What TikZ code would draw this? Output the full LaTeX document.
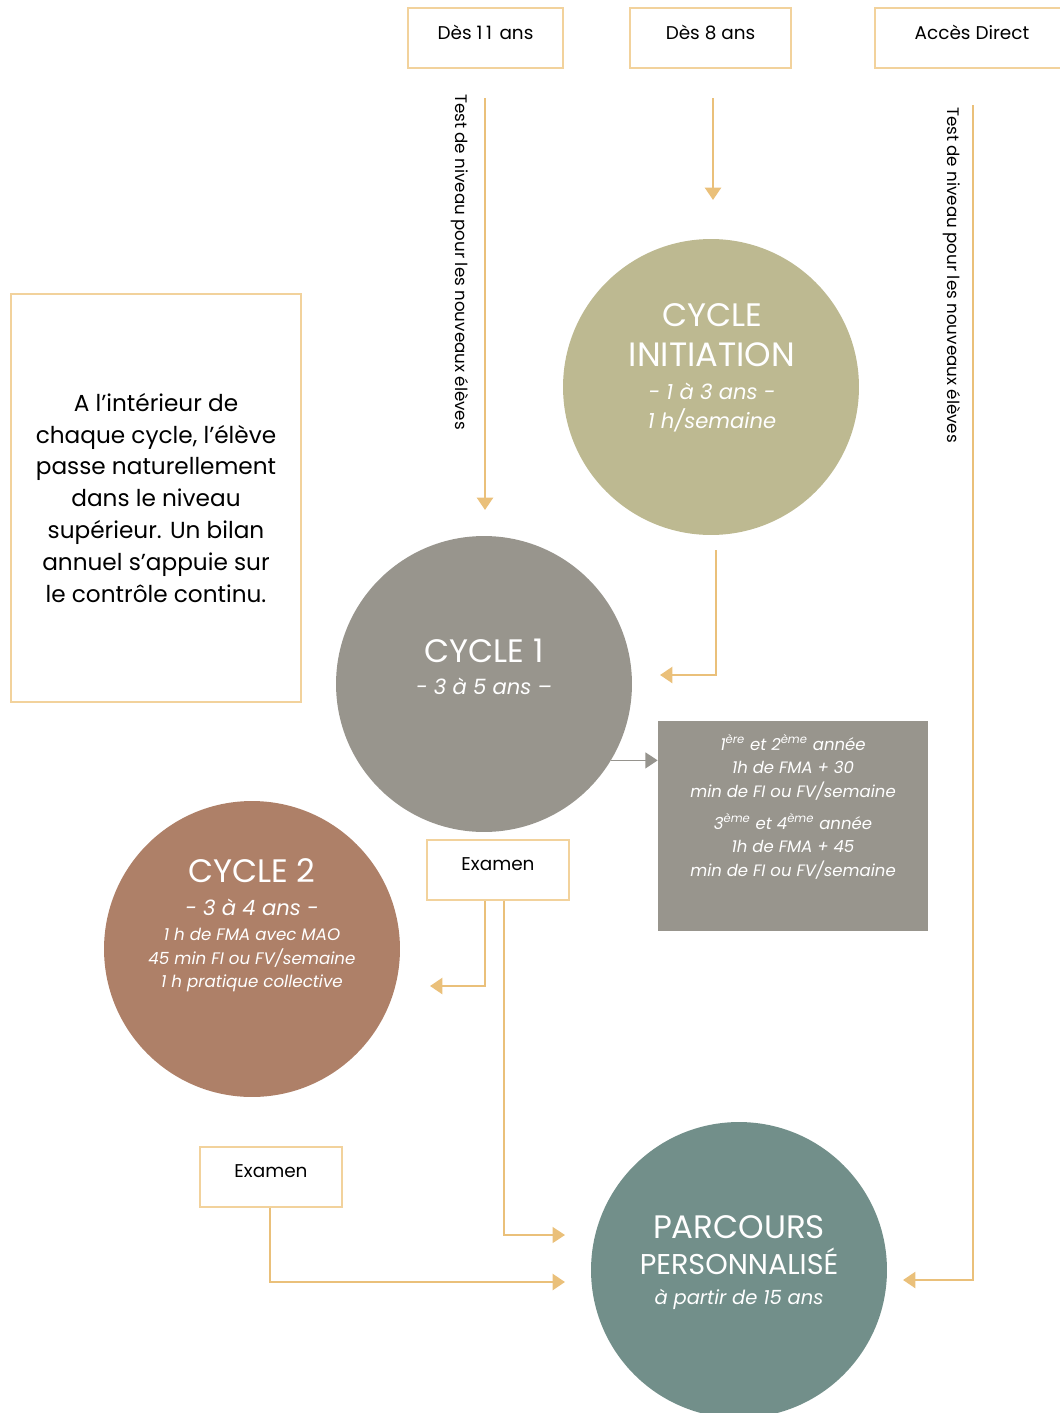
\documentclass[tikz,border=0pt]{standalone}
\usepackage{fontspec}
\setmainfont{Poppins}
\usetikzlibrary{arrows.meta, calc}
\definecolor{flowc}{RGB}{234,192,122}
\definecolor{edgec}{RGB}{242,210,156}
\definecolor{initc}{RGB}{189,185,145}
\definecolor{onec}{RGB}{152,149,141}
\definecolor{twoc}{RGB}{174,128,104}
\definecolor{parcc}{RGB}{114,143,138}
\definecolor{arrc}{RGB}{150,148,142}

\begin{document}
\begin{tikzpicture}[x=0.02cm, y=-0.02cm,
                    entry/.style={draw=edgec, line width=0.8pt, minimum width=3.1cm, minimum height=1.2cm,
                                  inner sep=0pt, text depth=7pt, font=\fontsize{10.5}{12}\selectfont},
                    disc/.style={circle, minimum size=5.92cm, inner sep=0pt},
                    big/.style={text=white, anchor=base, inner sep=0pt, font=\fontsize{18.5}{22}\selectfont},
                    sub/.style={text=white, anchor=base, inner sep=0pt, font=\fontsize{12}{14}\selectfont\itshape},
                    small/.style={text=white, anchor=base, inner sep=0pt, font=\fontsize{9.5}{12}\selectfont\itshape},
                    flow/.style={draw=flowc, line width=1.6pt, -{Triangle[length=7pt, width=9pt]}},
                    thinflow/.style={draw=flowc, line width=0.8pt, -{Triangle[length=7pt, width=9pt]}},
                    vert/.style={rotate=-90, font=\fontsize{9.5}{11}\selectfont}
                    ]
    \useasboundingbox (0,0) rectangle (1060,1413);

    % entry boxes
    \node[entry] (d11) at (485.5,38) {Dès 1\kern2pt1\kern1.5pt\ ans};
    \node[entry, minimum width=3.22cm] (d8) at (710.5,38) {Dès 8 ans};
    \draw[edgec, line width=0.8pt] (1070,8) -- (875,8) -- (875,68) -- (1070,68);
    \node[font=\fontsize{10.5}{12}\selectfont] (acc) at (972,32) {Accès Direct};

    % note on the left
    \node[draw=edgec, line width=0.8pt, minimum width=5.8cm, minimum height=8.16cm, align=center,
          font=\fontsize{13.2}{18.2}\selectfont] (note) at (156,498)
        {A l’intérieur de\\ chaque cycle, l’élève\\ passe naturellement\\ dans le niveau\\
         supérieur. Un bilan\\ annuel s’appuie sur\\ le contrôle continu.};

    % cycles
    \node[disc, fill=initc] (init) at (711,387) {};
    \node[disc, fill=onec] (c1) at (484,684) {};
    \node[disc, fill=twoc] (c2) at (252,949) {};
    \node[disc, fill=parcc] (parc) at (739,1270) {};

    \node[big] (init-a) at (712,326) {CYCLE};
    \node[big, font=\fontsize{19.2}{22}\selectfont] (init-b) at (712,366) {INITIATION};
    \node[sub] (init-c) at (712,399) {- 1 à 3 ans -};
    \node[sub] (init-d) at (712,428) {1 h/semaine};

    \node[big] (c1-a) at (484,662) {CYCLE 1};
    \node[sub] (c1-b) at (484,694) {- 3 à 5 ans –};

    \node[big] (c2-a) at (252,882) {CYCLE 2};
    \node[sub] (c2-b) at (252,915) {- 3 à 4 ans -};
    \node[small] (c2-c) at (252,940) {1 h de FMA avec MAO};
    \node[small] (c2-d) at (252,964) {45 min FI ou FV/semaine};
    \node[small] (c2-e) at (252,987) {1 h pratique collective};

    \node[big] (parc-a) at (739,1238) {PARCOURS};
    \node[big, font=\fontsize{16.3}{20}\selectfont] (parc-b) at (739,1274) {PERSONNALISÉ};
    \node[sub, font=\fontsize{11.1}{13}\selectfont\itshape] (parc-c) at (739,1304) {à partir de 15 ans};

    % detail box
    \node[fill=onec, minimum width=5.4cm, minimum height=4.2cm, inner sep=0pt] (gbox) at (793,826) {};
    \node[small, font=\fontsize{9.4}{12}\selectfont\itshape] (g-a) at (793,750) {1\textsuperscript{ère} et 2\textsuperscript{ème} année};
    \node[small, font=\fontsize{9.4}{12}\selectfont\itshape] (g-b) at (793,773) {1h de FMA + 30};
    \node[small, font=\fontsize{9.4}{12}\selectfont\itshape] (g-c) at (793,797) {min de FI ou FV/semaine};
    \node[small, font=\fontsize{9.4}{12}\selectfont\itshape] (g-d) at (793,829) {3\textsuperscript{ème} et 4\textsuperscript{ème} année};
    \node[small, font=\fontsize{9.4}{12}\selectfont\itshape] (g-e) at (793,852) {1h de FMA + 45};
    \node[small, font=\fontsize{9.4}{12}\selectfont\itshape] (g-f) at (793,876) {min de FI ou FV/semaine};

    % exams
    \node[entry, minimum width=2.84cm] (ex1) at (498,870) {Examen};
    \node[entry, minimum width=2.84cm] (ex2) at (271,1177) {Examen};

    % free ends
    \coordinate (l0) at (485,98);   \coordinate (l1) at (485,510);
    \coordinate (m0) at (713,98);   \coordinate (m1) at (713,200);
    \coordinate (i0) at (716,550);  \coordinate (i1) at (660,675);
    \coordinate (r0) at (973,105);  \coordinate (r1) at (903,1280);
    \coordinate (e1) at (430,986);  \coordinate (e2) at (565,1235);
    \coordinate (e3) at (565,1282);

    \draw[flow] (l0) -- (l1);
    \draw[flow] (m0) -- (m1);
    \draw[flow] (i0) |- (i1);
    \draw[flow] (r0) |- (r1);
    \draw[arrc, line width=1pt, -{Triangle[length=7pt, width=9pt]}] (c1.-31.8) -- (gbox.west |- c1.-31.8);
    \draw[flow] (ex1.south -| l0) |- (e1);
    \draw[thinflow] ($(ex1.south)+(6,0)$) |- (e2);
    \draw[flow] (ex2.south -| 270,0) |- (e3);

    \node[vert] (tl) at (460,262) {Test de niveau pour les nouveaux élèves};
    \node[vert] (tr) at (952,275) {Test de niveau pour les nouveaux élèves};
\end{tikzpicture}
\end{document}
